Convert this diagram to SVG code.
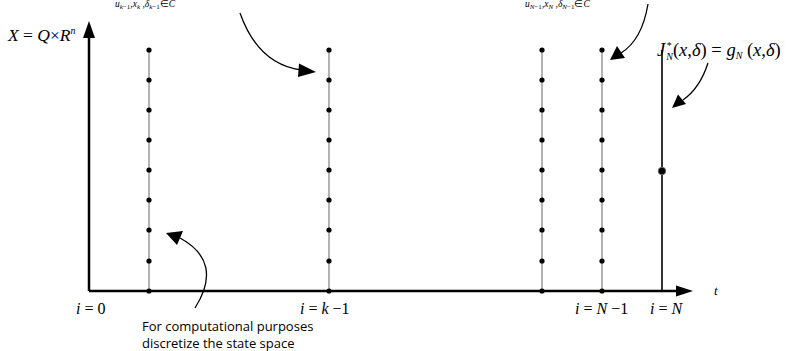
<svg xmlns="http://www.w3.org/2000/svg" width="789" height="351" viewBox="0 0 789 351">
<style>
.math{font-family:'Liberation Serif','Times New Roman',serif;font-style:italic;fill:#000}
.up{font-style:normal}
.grid{stroke:#999;stroke-width:1.5}
.dot{fill:#000}
.axis{stroke:#000;stroke-width:2.5;fill:none}
.curve{stroke:#000;stroke-width:1.3;fill:none}
.note{font-family:"Open Sans","Liberation Sans",sans-serif;font-size:13px;fill:#000}
</style>
<defs>
<g id="col">
<line class="grid" x1="0" y1="50" x2="0" y2="291"/>
<circle class="dot" cx="0" cy="50" r="2.6"/>
<circle class="dot" cx="0" cy="80" r="2.6"/>
<circle class="dot" cx="0" cy="110" r="2.6"/>
<circle class="dot" cx="0" cy="140" r="2.6"/>
<circle class="dot" cx="0" cy="170" r="2.6"/>
<circle class="dot" cx="0" cy="200" r="2.6"/>
<circle class="dot" cx="0" cy="230" r="2.6"/>
<circle class="dot" cx="0" cy="261" r="2.6"/>
<circle class="dot" cx="0" cy="291" r="2.6"/>
</g>
</defs>
<g id="connectors">
<path class="axis" d="M89,291 V38"/>
<path d="M83,38 L89,21 L95,38 z" fill="#000"/>
<path class="axis" d="M89,291 H676"/>
<path d="M676,285.5 L693,291 L676,296.5 z" fill="#000"/>
<path class="curve" d="M240,13 Q258,64 301,70" />
<path d="M299,63.5 L316,72 L298,77 z" fill="#000"/>
<path class="curve" d="M648,4 Q642,40 621,53"/>
<path d="M617,46 L610,60 L625,58 z" fill="#000"/>
<path class="curve" d="M708,63 Q700,88 683,100"/>
<path d="M678,94.5 L672,108 L686,104 z" fill="#000"/>
<path class="curve" d="M195,308 Q224,262 180,238"/>
<path d="M183,231 L166,233 L177,245 z" fill="#000"/>
</g>
<g id="node-i0"><use href="#col" x="149"/></g>
<g id="node-ik1"><use href="#col" x="329"/></g>
<g id="node-iN2"><use href="#col" x="542"/></g>
<g id="node-iN1"><use href="#col" x="602"/></g>
<g id="node-iN">
<line x1="662" y1="50" x2="662" y2="291" stroke="#000" stroke-width="1.6"/>
<circle cx="662" cy="171" r="3.8" fill="#000" stroke="#777" stroke-width="0.8"/>
</g>
<g id="labels">
<text class="math" x="8" y="41" font-size="17.5">X <tspan class="up">= </tspan>Q<tspan class="up">×</tspan>R<tspan font-size="10" dy="-7">n</tspan></text>
<text class="math" x="115" y="7" font-size="9.5">u<tspan font-size="7" dy="2">k<tspan class="up">−1</tspan></tspan><tspan dy="-2" class="up">,</tspan>x<tspan font-size="7" dy="2">k</tspan><tspan dy="-2" class="up"> ,</tspan>δ<tspan font-size="7" dy="2">k<tspan class="up">−1</tspan></tspan><tspan dy="-2" class="up">∈</tspan>C</text>
<text class="math" x="525" y="7" font-size="9.5">u<tspan font-size="7" dy="2">N<tspan class="up">−1</tspan></tspan><tspan dy="-2" class="up">,</tspan>x<tspan font-size="7" dy="2">N</tspan><tspan dy="-2" class="up"> ,</tspan>δ<tspan font-size="7" dy="2">N<tspan class="up">−1</tspan></tspan><tspan dy="-2" class="up">∈</tspan>C</text>
<text class="math" x="657" y="56" font-size="18.5">J<tspan font-size="10" dx="1" dy="-7">*</tspan><tspan font-size="10" dx="-5" dy="11">N</tspan><tspan class="up" dy="-4">(</tspan>x<tspan class="up">,</tspan>δ<tspan class="up">) = </tspan>g<tspan font-size="10" dy="3">N</tspan><tspan class="up" dy="-3">  (</tspan>x<tspan class="up">,</tspan>δ<tspan class="up">)</tspan></text>
<text class="math" x="76" y="314" font-size="16">i <tspan class="up">= 0</tspan></text>
<text class="math" x="300" y="314" font-size="16">i <tspan class="up">= </tspan>k <tspan class="up">−1</tspan></text>
<text class="math" x="575" y="314" font-size="16">i <tspan class="up">= </tspan>N <tspan class="up">−1</tspan></text>
<text class="math" x="650" y="314" font-size="16">i <tspan class="up">= </tspan>N</text>
<text class="math" x="714" y="295" font-size="13">t</text>
<text class="note" x="142" y="331">For computational purposes</text>
<text class="note" x="142" y="348">discretize the state space</text>
</g>
</svg>
